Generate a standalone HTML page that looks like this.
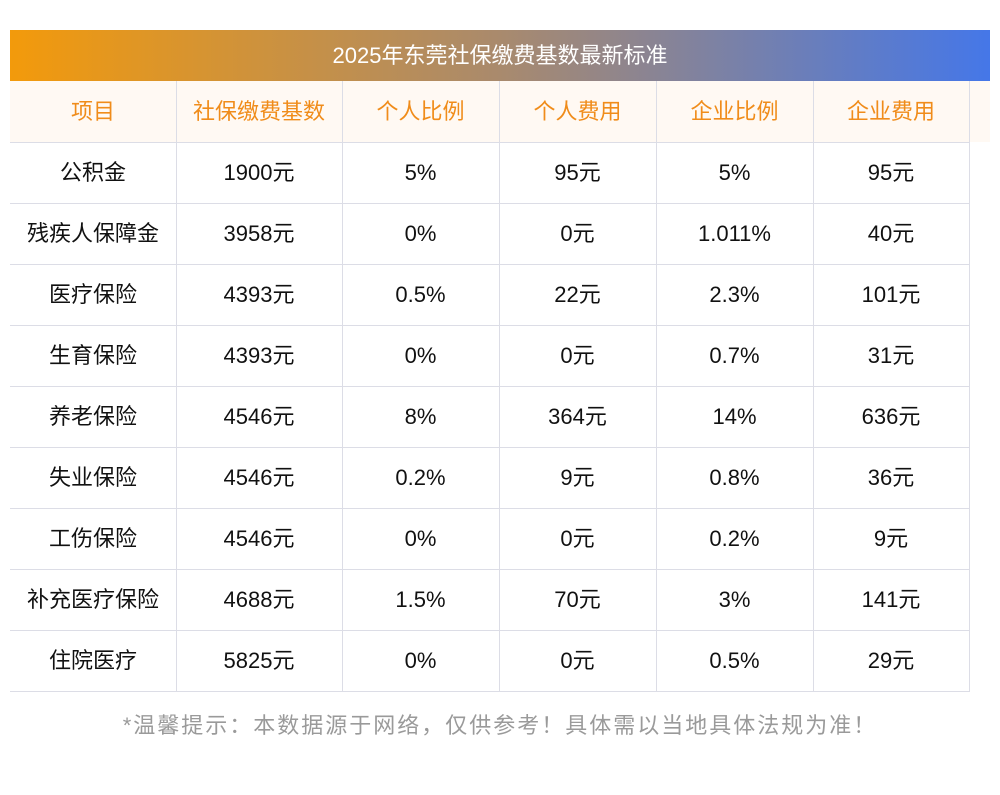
<!DOCTYPE html>
<html><head><meta charset="utf-8"><style>
body{margin:0;width:1000px;height:795px;background:#fff;position:relative;font-family:"Liberation Sans","Noto Sans CJK SC",sans-serif;overflow:hidden}
.t{position:absolute;left:10px;top:30px;width:980px;height:51px;background:linear-gradient(90deg,#f39a0b,#a98a6d 50%,#4577e8);color:#fff;font-size:22px;line-height:51px;text-align:center}
.h{position:absolute;left:10px;top:81px;width:980px;height:61px;background:#fff9f3}
.c{position:absolute;height:61px;line-height:61px;text-align:center;font-size:22px;color:#111}
.hd{color:#f08c1a}
.v{position:absolute;width:1px;background:#dcdde6;top:81px;height:611px}
.r{position:absolute;left:10px;width:959px;height:1px;background:#dcdde6}
.f{position:absolute;top:708px;left:0;width:1000px;text-align:center;font-size:22px;letter-spacing:2px;color:#9a9a9a;line-height:36px}
</style></head><body>
<div class="t">2025年东莞社保缴费基数最新标准</div>
<div class="h"></div>
<div id="g"></div>
<div class="f">*温馨提示：本数据源于网络，仅供参考！具体需以当地具体法规为准！</div>
<script>
var xs=[10,176,342,499,656,813,969];
var rows=[["项目","社保缴费基数","个人比例","个人费用","企业比例","企业费用"],
["公积金","1900元","5%","95元","5%","95元"],
["残疾人保障金","3958元","0%","0元","1.011%","40元"],
["医疗保险","4393元","0.5%","22元","2.3%","101元"],
["生育保险","4393元","0%","0元","0.7%","31元"],
["养老保险","4546元","8%","364元","14%","636元"],
["失业保险","4546元","0.2%","9元","0.8%","36元"],
["工伤保险","4546元","0%","0元","0.2%","9元"],
["补充医疗保险","4688元","1.5%","70元","3%","141元"],
["住院医疗","5825元","0%","0元","0.5%","29元"]];
var h="";
for(var i=1;i<xs.length;i++)h+='<div class="v" style="left:'+xs[i]+'px"></div>';
for(var r=0;r<rows.length;r++){var y=81+61*r;
if(r>0)h+='<div class="r" style="top:'+y+'px"></div>';
for(var c=0;c<6;c++)h+='<div class="c'+(r==0?' hd':'')+'" style="top:'+y+'px;left:'+xs[c]+'px;width:'+(xs[c+1]-xs[c])+'px">'+rows[r][c]+'</div>';}
h+='<div class="r" style="top:691px"></div>';
document.getElementById("g").innerHTML=h;
</script>
</body></html>
